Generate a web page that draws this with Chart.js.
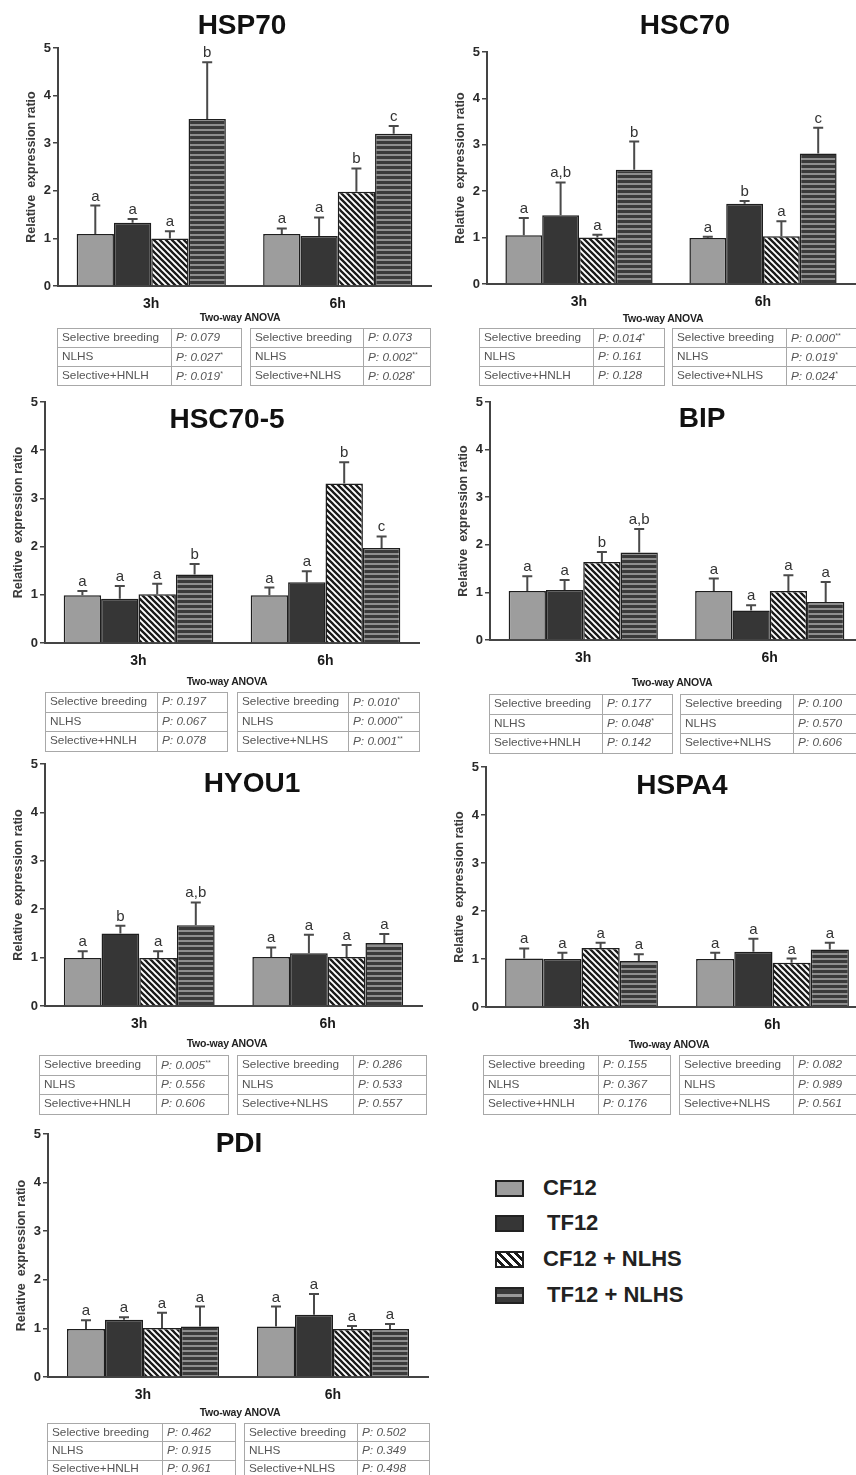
<!DOCTYPE html>
<html>
<head>
<meta charset="utf-8">
<script src="https://cdn.jsdelivr.net/npm/chart.js@4.4.1/dist/chart.umd.min.js"></script>
<style>
  html, body { margin: 0; padding: 0; background: #fff; }
  #page { position: relative; width: 856px; height: 1475px; overflow: hidden; background: #fff;
          font-family: "Liberation Sans", Arial, sans-serif; }
  canvas { position: absolute; }
  .title { position: absolute; font-weight: bold; font-size: 28px; color: #111; transform: translate(-50%, -50%); white-space: nowrap; }
  .anova { position: absolute; font-weight: bold; font-size: 10.5px; color: #222; transform: translate(-50%, -50%); white-space: nowrap; letter-spacing: -0.2px; }
  table.p { position: absolute; border-collapse: collapse; table-layout: fixed; font-size: 11.8px; color: #555; }
  table.p td { border: 1.5px solid #a8a8a8; padding: 0 0 0 4px; white-space: nowrap; overflow: hidden; line-height: 1; }
  table.p td.v { font-style: italic; }
  table.p sup { font-size: 7px; vertical-align: 4px; }
  .leg { position: absolute; font-weight: bold; font-size: 22px; color: #222; white-space: nowrap; }
  .sw { position: absolute; width: 25px; height: 13px; border: 2px solid #222; }
</style>
</head>
<body>
<div id="page"></div>
<script>
// groups and series
const groups = ['3h', '6h'];
const seriesNames = ['CF12', 'TF12', 'CF12 + NLHS', 'TF12 + NLHS'];
const yTicks = [0, 1, 2, 3, 4, 5];
const rows3h = ['Selective breeding', 'NLHS', 'Selective+HNLH'];
const rows6h = ['Selective breeding', 'NLHS', 'Selective+NLHS'];

// each array: one entry per series (CF12, TF12, CF12+NLHS, TF12+NLHS), inside [3h, 6h]
const hsp70Mean = [[1.09, 1.09], [1.33, 1.05], [1.00, 1.98], [3.51, 3.20]];
const hsp70Err  = [[0.60, 0.12], [0.08, 0.39], [0.15, 0.49], [1.19, 0.16]];
const hsp70Sig  = [['a', 'a'], ['a', 'a'], ['a', 'b'], ['b', 'c']];
const hsp70P3h  = ['P: 0.079', 'P: 0.027*', 'P: 0.019*'];
const hsp70P6h  = ['P: 0.073', 'P: 0.002**', 'P: 0.028*'];

const hsc70Mean = [[1.05, 0.99], [1.48, 1.73], [1.00, 1.03], [2.46, 2.81]];
const hsc70Err  = [[0.37, 0.03], [0.71, 0.06], [0.06, 0.32], [0.61, 0.56]];
const hsc70Sig  = [['a', 'a'], ['a,b', 'b'], ['a', 'a'], ['b', 'c']];
const hsc70P3h  = ['P: 0.014*', 'P: 0.161', 'P: 0.128'];
const hsc70P6h  = ['P: 0.000**', 'P: 0.019*', 'P: 0.024*'];

const hsc705Mean = [[0.99, 0.99], [0.92, 1.26], [1.01, 3.31], [1.42, 1.97]];
const hsc705Err  = [[0.09, 0.16], [0.26, 0.23], [0.22, 0.44], [0.22, 0.24]];
const hsc705Sig  = [['a', 'a'], ['a', 'a'], ['a', 'b'], ['b', 'c']];
const hsc705P3h  = ['P: 0.197', 'P: 0.067', 'P: 0.078'];
const hsc705P6h  = ['P: 0.010*', 'P: 0.000**', 'P: 0.001**'];

const bipMean = [[1.03, 1.03], [1.05, 0.62], [1.64, 1.03], [1.84, 0.80]];
const bipErr  = [[0.31, 0.26], [0.21, 0.11], [0.21, 0.33], [0.49, 0.42]];
const bipSig  = [['a', 'a'], ['a', 'a'], ['b', 'a'], ['a,b', 'a']];
const bipP3h  = ['P: 0.177', 'P: 0.048*', 'P: 0.142'];
const bipP6h  = ['P: 0.100', 'P: 0.570', 'P: 0.606'];

const hyou1Mean = [[0.99, 1.01], [1.50, 1.09], [0.99, 1.01], [1.67, 1.30]];
const hyou1Err  = [[0.14, 0.20], [0.16, 0.38], [0.14, 0.25], [0.47, 0.19]];
const hyou1Sig  = [['a', 'a'], ['b', 'a'], ['a', 'a'], ['a,b', 'a']];
const hyou1P3h  = ['P: 0.005**', 'P: 0.556', 'P: 0.606'];
const hyou1P6h  = ['P: 0.286', 'P: 0.533', 'P: 0.557'];

const hspa4Mean = [[1.01, 1.00], [1.00, 1.15], [1.23, 0.92], [0.96, 1.20]];
const hspa4Err  = [[0.21, 0.13], [0.13, 0.27], [0.11, 0.09], [0.14, 0.14]];
const hspa4Sig  = [['a', 'a'], ['a', 'a'], ['a', 'a'], ['a', 'a']];
const hspa4P3h  = ['P: 0.155', 'P: 0.367', 'P: 0.176'];
const hspa4P6h  = ['P: 0.082', 'P: 0.989', 'P: 0.561'];

const pdiMean = [[0.99, 1.04], [1.18, 1.28], [1.01, 0.99], [1.04, 0.99]];
const pdiErr  = [[0.18, 0.41], [0.05, 0.43], [0.31, 0.06], [0.41, 0.10]];
const pdiSig  = [['a', 'a'], ['a', 'a'], ['a', 'a'], ['a', 'a']];
const pdiP3h  = ['P: 0.462', 'P: 0.915', 'P: 0.961'];
const pdiP6h  = ['P: 0.502', 'P: 0.349', 'P: 0.498'];

// where each panel sits on the page
const panels = [
  { title: 'HSP70', mean: hsp70Mean, err: hsp70Err, sig: hsp70Sig, p3: hsp70P3h, p6: hsp70P6h,
    ax: 58, y5: 48, y0: 286, right: 431, tx: 242, ty: 25, anx: 240, any: 317,
    t1: [57, 328, 185, 114], t2: [250, 328, 181, 113], rh: 19 },
  { title: 'HSC70', mean: hsc70Mean, err: hsc70Err, sig: hsc70Sig, p3: hsc70P3h, p6: hsc70P6h,
    ax: 487, y5: 52, y0: 284, right: 855, tx: 685, ty: 25, anx: 663, any: 318,
    t1: [479, 328, 186, 114], t2: [672, 328, 186, 114], rh: 19 },
  { title: 'HSC70-5', mean: hsc705Mean, err: hsc705Err, sig: hsc705Sig, p3: hsc705P3h, p6: hsc705P6h,
    ax: 45, y5: 402, y0: 643, right: 419, tx: 227, ty: 419, anx: 227, any: 681,
    t1: [45, 692, 183, 112], t2: [237, 692, 183, 111], rh: 19.5 },
  { title: 'BIP', mean: bipMean, err: bipErr, sig: bipSig, p3: bipP3h, p6: bipP6h,
    ax: 490, y5: 402, y0: 640, right: 863, tx: 702, ty: 418, anx: 672, any: 682,
    t1: [489, 694, 184, 113], t2: [680, 694, 184, 113], rh: 19.5 },
  { title: 'HYOU1', mean: hyou1Mean, err: hyou1Err, sig: hyou1Sig, p3: hyou1P3h, p6: hyou1P6h,
    ax: 45, y5: 764, y0: 1006, right: 422, tx: 252, ty: 783, anx: 227, any: 1043,
    t1: [39, 1055, 190, 117], t2: [237, 1055, 190, 116], rh: 19.5 },
  { title: 'HSPA4', mean: hspa4Mean, err: hspa4Err, sig: hspa4Sig, p3: hspa4P3h, p6: hspa4P6h,
    ax: 486, y5: 767, y0: 1007, right: 868, tx: 682, ty: 785, anx: 669, any: 1044,
    t1: [483, 1055, 188, 115], t2: [679, 1055, 188, 114], rh: 19.5 },
  { title: 'PDI', mean: pdiMean, err: pdiErr, sig: pdiSig, p3: pdiP3h, p6: pdiP6h,
    ax: 48, y5: 1134, y0: 1377, right: 428, tx: 239, ty: 1143, anx: 240, any: 1412,
    t1: [47, 1423, 189, 115], t2: [244, 1423, 186, 113], rh: 18.3 }
];

const page = document.getElementById('page');

// fill patterns
function diagPattern() {
  const c = document.createElement('canvas');
  c.width = 6; c.height = 6;
  const g = c.getContext('2d');
  g.fillStyle = '#fff';
  g.fillRect(0, 0, 6, 6);
  g.strokeStyle = '#1a1a1a';
  g.lineWidth = 2.3;
  g.beginPath();
  g.moveTo(-1, -1); g.lineTo(7, 7);
  g.moveTo(-1, 5); g.lineTo(1, 7);
  g.moveTo(5, -1); g.lineTo(7, 1);
  g.stroke();
  return g.createPattern(c, 'repeat');
}
function hLinePattern() {
  const c = document.createElement('canvas');
  c.width = 4; c.height = 5;
  const g = c.getContext('2d');
  g.fillStyle = '#3a3a3a';
  g.fillRect(0, 0, 4, 5);
  g.fillStyle = '#8e8e8e';
  g.fillRect(0, 3, 4, 2);
  return g.createPattern(c, 'repeat');
}
const fills = ['#9d9d9d', '#363636', diagPattern(), hLinePattern()];

const errorBars = {
  id: 'errorBars',
  afterDatasetsDraw(chart) {
    const ctx = chart.ctx;
    const y = chart.scales.y;
    ctx.save();
    chart.data.datasets.forEach((ds, i) => {
      chart.getDatasetMeta(i).data.forEach((bar, j) => {
        const top = y.getPixelForValue(ds.data[j] + ds.errors[j]);
        ctx.strokeStyle = '#4a4a4a';
        ctx.lineWidth = 2;
        ctx.beginPath();
        ctx.moveTo(bar.x, bar.y);
        ctx.lineTo(bar.x, top);
        ctx.moveTo(bar.x - 5, top);
        ctx.lineTo(bar.x + 5, top);
        ctx.stroke();
        ctx.fillStyle = '#333';
        ctx.font = '15px "Liberation Sans", Arial, sans-serif';
        ctx.textAlign = 'center';
        ctx.textBaseline = 'alphabetic';
        ctx.fillText(ds.letters[j], bar.x, top - 5);
      });
    });
    ctx.restore();
  }
};

function pText(s) {
  return s.replace(/(\*+)$/, '<sup>$1</sup>');
}

function addTable(pos, names, vals, rh) {
  const t = document.createElement('table');
  t.className = 'p';
  t.style.left = pos[0] + 'px';
  t.style.top = pos[1] + 'px';
  t.style.width = pos[2] + 'px';
  let html = '<colgroup><col style="width:' + pos[3] + 'px"><col></colgroup>';
  names.forEach((n, i) => {
    html += '<tr style="height:' + rh + 'px"><td>' + n + '</td><td class="v">' + pText(vals[i]) + '</td></tr>';
  });
  t.innerHTML = html;
  page.appendChild(t);
}

function addDiv(cls, text, x, y) {
  const d = document.createElement('div');
  d.className = cls;
  d.textContent = text;
  d.style.left = x + 'px';
  d.style.top = y + 'px';
  page.appendChild(d);
}

const YW = 60, PT = 12, XH = 30;

panels.forEach(p => {
  const left = p.ax - YW;
  const top = p.y5 - PT;
  const w = p.right - left + 4;
  const h = p.y0 - top + XH;
  const cv = document.createElement('canvas');
  cv.width = w; cv.height = h;
  cv.style.left = left + 'px';
  cv.style.top = top + 'px';
  cv.style.width = w + 'px';
  cv.style.height = h + 'px';
  page.appendChild(cv);

  new Chart(cv.getContext('2d'), {
    type: 'bar',
    data: {
      labels: groups,
      datasets: seriesNames.map((name, i) => ({
        label: name,
        data: p.mean[i],
        errors: p.err[i],
        letters: p.sig[i],
        backgroundColor: fills[i],
        borderColor: '#1e1e1e',
        borderWidth: 1.5,
        barPercentage: 1.0,
        categoryPercentage: 0.8
      }))
    },
    options: {
      responsive: false,
      animation: false,
      devicePixelRatio: 1,
      layout: { padding: { top: PT, right: 4, left: 0, bottom: 0 } },
      plugins: { legend: { display: false }, tooltip: { enabled: false } },
      scales: {
        x: {
          grid: { display: false },
          border: { display: true, color: '#444', width: 2 },
          ticks: { color: '#1a1a1a', padding: 2, font: { size: 14, weight: 'bold', family: '"Liberation Sans", Arial' } },
          afterFit: s => { s.height = XH; }
        },
        y: {
          min: 0, max: 5,
          afterBuildTicks: s => { s.ticks = yTicks.map(v => ({ value: v })); },
          grid: { drawOnChartArea: false, drawTicks: true, tickLength: 5, color: '#444', lineWidth: 1.5 },
          border: { display: true, color: '#444', width: 2 },
          ticks: { color: '#2a2a2a', padding: 2, font: { size: 13, weight: 'bold', family: '"Liberation Sans", Arial' } },
          title: { display: true, text: 'Relative  expression ratio', color: '#3a3a3a',
                   font: { size: 12.5, weight: 'bold', family: '"Liberation Sans", Arial' },
                   padding: { top: YW - 26 - 7.5, bottom: 0 } },
          afterFit: s => { s.width = YW; }
        }
      }
    },
    plugins: [errorBars]
  });

  addDiv('title', p.title, p.tx, p.ty);
  addDiv('anova', 'Two-way ANOVA', p.anx, p.any);
  addTable(p.t1, rows3h, p.p3, p.rh);
  addTable(p.t2, rows6h, p.p6, p.rh);
});

// legend
const legendRows = [
  { y: 1188, tx: 543, style: 'background:#9d9d9d' },
  { y: 1223, tx: 547, style: 'background:#363636' },
  { y: 1259, tx: 543, style: 'background:repeating-linear-gradient(45deg,#fff 0 3px,#1a1a1a 3px 6px)' },
  { y: 1295, tx: 547, style: 'background:linear-gradient(#3a3a3a 0 5px,#9a9a9a 5px 8px,#3a3a3a 8px)' }
];
legendRows.forEach((r, i) => {
  const s = document.createElement('div');
  s.className = 'sw';
  s.style.cssText = 'left:495px;top:' + (r.y - 8.5) + 'px;' + r.style;
  page.appendChild(s);
  const t = document.createElement('div');
  t.className = 'leg';
  t.textContent = seriesNames[i];
  t.style.left = r.tx + 'px';
  t.style.top = (r.y - 13) + 'px';
  page.appendChild(t);
});
</script>
</body>
</html>
